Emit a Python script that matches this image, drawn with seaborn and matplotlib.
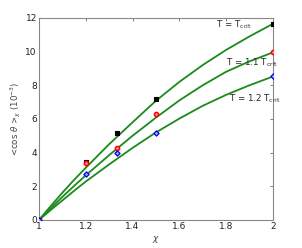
import numpy as np
import pandas as pd
import matplotlib
matplotlib.use("Agg")
import matplotlib.pyplot as plt
import seaborn as sns

# measured points
chi_pts = [1.0, 1.2, 4 / 3, 1.5, 2.0]
tc_pts = [0.0, 3.45, 5.15, 7.2, 11.65]
tc11_pts = [0.0, 3.4, 4.3, 6.3, 9.95]
tc12_pts = [0.0, 2.7, 4.0, 5.15, 8.55]

# fitted curves
chi_fit = [1.0, 1.05, 1.1, 1.15, 1.2, 1.3, 1.4, 1.5, 1.6, 1.7, 1.8, 1.9, 2.0]
tc_fit = [0.0, 0.82, 1.62, 2.38, 3.1, 4.5, 5.8, 7.08, 8.2, 9.2, 10.1, 10.9, 11.65]
tc11_fit = [0.0, 0.69, 1.37, 2.02, 2.65, 3.85, 5.0, 6.08, 7.1, 8.0, 8.8, 9.42, 9.95]
tc12_fit = [0.0, 0.59, 1.16, 1.73, 2.28, 3.3, 4.28, 5.2, 6.02, 6.78, 7.43, 8.0, 8.52]

sns.set_style("white")
plt.rcParams['font.family'] = ['DejaVu Sans']

fig = plt.figure(figsize=(3.02, 2.48), dpi=100)
ax = fig.add_axes([0.129, 0.113, 0.775, 0.815])

green = "#1a8a1a"
for fit in [tc_fit, tc11_fit, tc12_fit]:
    sns.lineplot(x=chi_fit, y=fit, ax=ax, color=green, linewidth=1.3, zorder=2)

sns.scatterplot(x=chi_pts, y=tc_pts, ax=ax, marker="s", s=8, color="black",
                edgecolor="black", linewidth=0.8, zorder=3)
sns.scatterplot(x=chi_pts, y=tc11_pts, ax=ax, marker="o", s=9, facecolor="#ff9090",
                edgecolor="red", linewidth=1.1, zorder=3)
sns.scatterplot(x=chi_pts, y=tc12_pts, ax=ax, marker="D", s=7, facecolor="#a0a0ff",
                edgecolor="blue", linewidth=0.9, zorder=4)

ax.text(1.755, 11.4, r"T = T$_{\rm crit}$", fontsize=6.3)
ax.text(1.80, 9.15, r"T = 1.1 T$_{\rm crit}$", fontsize=6.3)
ax.text(1.81, 7.05, r"T = 1.2 T$_{\rm crit}$", fontsize=6.3)

ax.set_xlim(1, 2)
ax.set_ylim(0, 12)
ax.set_xticks([1, 1.2, 1.4, 1.6, 1.8, 2])
ax.set_xticklabels(["1", "1.2", "1.4", "1.6", "1.8", "2"])
ax.set_yticks([0, 2, 4, 6, 8, 10, 12])
ax.tick_params(direction="in", length=2.5, width=0.6, colors="#666666",
               labelcolor="#222222", labelsize=6.5, top=True, right=True, pad=1.5)
for sp in ax.spines.values():
    sp.set_color("#888888")
    sp.set_linewidth(0.8)

ax.set_xlabel(r"$\chi$", fontsize=6.5, color="#444444", labelpad=2)
ax.set_ylabel(r"<cos $\theta$ >$_\chi$ (10$^{-3}$)", fontsize=6.2, color="#444444", labelpad=2)

fig.savefig("out.png", dpi=100)
